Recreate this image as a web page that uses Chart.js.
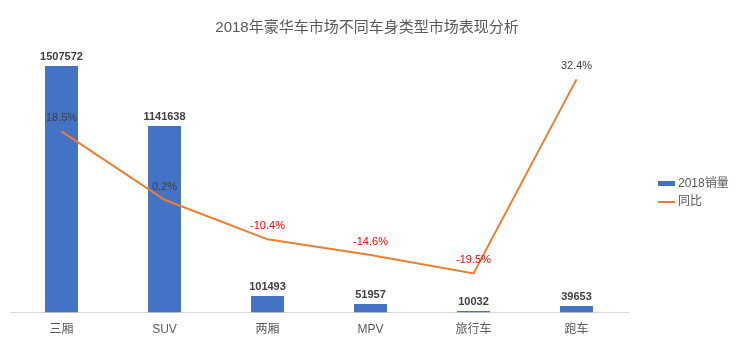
<!DOCTYPE html>
<html>
<head>
<meta charset="utf-8">
<script src="https://cdn.jsdelivr.net/npm/chart.js@4/dist/chart.umd.min.js"></script>
<style>
  html, body { margin: 0; padding: 0; background: #fff; }
  #wrap { width: 752px; height: 363px; }
</style>
</head>
<body>
<div id="wrap"><canvas id="grafico" width="752" height="363"></canvas></div>
<script>
const categorias = ['三厢', 'SUV', '两厢', 'MPV', '旅行车', '跑车'];
const vendas2018 = [1507572, 1141638, 101493, 51957, 10032, 39653];
const tongbi = [18.5, 0.2, -10.4, -14.6, -19.5, 32.4];
const titulo = '2018年豪华车市场不同车身类型市场表现分析';
const legendas = ['2018销量', '同比'];

const FONTE = '"Liberation Sans", "Noto Sans CJK SC", sans-serif';

// rótulos, título e legenda desenhados à mão
const extras = {
    id: 'extras',
    afterDatasetsDraw(chart) {
        const ctx = chart.ctx;
        ctx.save();
        ctx.textAlign = 'center';
        ctx.textBaseline = 'middle';

        // valores das barras
        ctx.font = 'bold 11px ' + FONTE;
        ctx.fillStyle = '#404040';
        chart.getDatasetMeta(0).data.forEach((bar, i) => {
            ctx.fillText(String(vendas2018[i]), bar.x, bar.y - 9);
        });

        // percentuais da linha
        ctx.font = '11px ' + FONTE;
        chart.getDatasetMeta(1).data.forEach((pt, i) => {
            ctx.fillStyle = tongbi[i] < 0 ? '#FF0000' : '#404040';
            ctx.fillText(tongbi[i].toFixed(1) + '%', pt.x, pt.y - 13);
        });

        // título
        ctx.font = '15px ' + FONTE;
        ctx.fillStyle = '#595959';
        ctx.fillText(titulo, 367, 28);

        // legenda
        ctx.textAlign = 'left';
        ctx.font = '12px ' + FONTE;
        ctx.fillStyle = '#4472C4';
        ctx.fillRect(658, 181, 17, 5);
        ctx.strokeStyle = '#ED7D31';
        ctx.lineWidth = 2;
        ctx.beginPath();
        ctx.moveTo(658, 202);
        ctx.lineTo(675, 202);
        ctx.stroke();
        ctx.fillStyle = '#595959';
        ctx.fillText(legendas[0], 678, 184);
        ctx.fillText(legendas[1], 678, 202);
        ctx.restore();
    }
};

new Chart(document.getElementById('grafico'), {
    data: {
        labels: categorias,
        datasets: [
            {
                type: 'bar',
                label: legendas[0],
                data: vendas2018,
                backgroundColor: '#4472C4',
                yAxisID: 'y',
                barPercentage: 0.32,
                categoryPercentage: 1,
                order: 1
            },
            {
                type: 'line',
                label: legendas[1],
                data: tongbi,
                borderColor: '#ED7D31',
                borderWidth: 2,
                pointRadius: 0,
                tension: 0,
                fill: false,
                yAxisID: 'y1',
                order: 0
            }
        ]
    },
    options: {
        responsive: false,
        animation: false,
        layout: { padding: { left: 10, right: 124, top: 51, bottom: 16 } },
        plugins: {
            legend: { display: false },
            title: { display: false },
            tooltip: { enabled: false }
        },
        scales: {
            x: {
                grid: { display: false, drawTicks: false },
                border: { display: true, color: '#D9D9D9', width: 1 },
                ticks: { color: '#595959', font: { size: 12, family: FONTE }, padding: 10, maxRotation: 0 }
            },
            y: { display: false, min: 0, max: 1600000 },
            y1: { display: false, min: -30, max: 40 }
        }
    },
    plugins: [extras]
});
</script>
</body>
</html>
